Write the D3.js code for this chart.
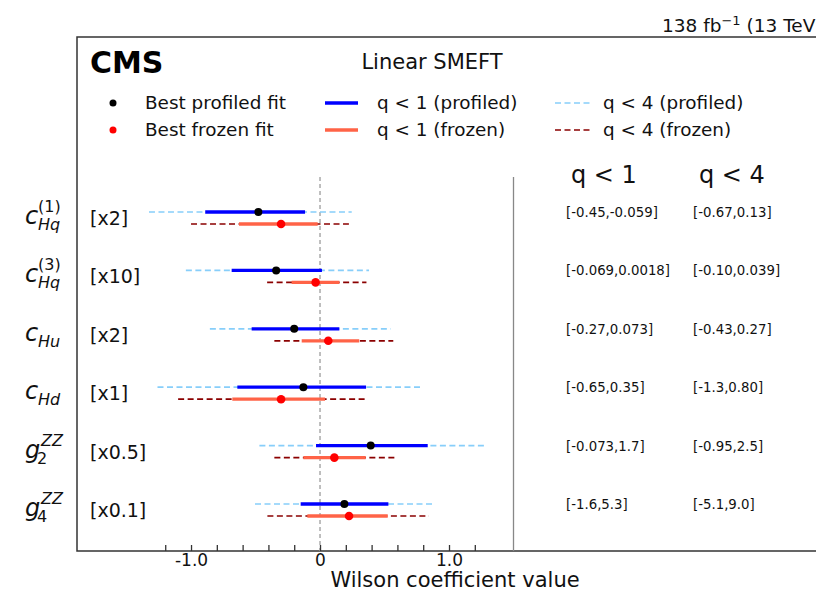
<!DOCTYPE html>
<html>
<head>
<meta charset="utf-8">
<script src="https://cdn.jsdelivr.net/npm/d3@7"></script>
<style>
  body { margin: 0; background: #fff; }
  svg { font-family: "DejaVu Sans", sans-serif; }
</style>
</head>
<body>
<div id="chart-area"></div>
<script>
// parameter labels (base letter, subscript, superscript) and plot scale factors
var labelBase = ["c", "c", "c", "c", "g", "g"];
var labelSub = ["Hq", "Hq", "Hu", "Hd", "2", "4"];
var labelSup = ["(1)", "(3)", "", "", "ZZ", "ZZ"];
var scaleText = ["[x2]", "[x10]", "[x2]", "[x1]", "[x0.5]", "[x0.1]"];
var scaleFactor = [2, 10, 2, 1, 0.5, 0.1];

// intervals in original units
var profBest = [-0.239, -0.034, -0.10, -0.129, 0.786, 1.89];
var profQ1Lo = [-0.445, -0.0685, -0.265, -0.641, -0.062, -1.50];
var profQ1Hi = [-0.058, 0.0015, 0.075, 0.357, 1.67, 5.30];
var profQ4Lo = [-0.663, -0.104, -0.427, -1.26, -0.94, -5.04];
var profQ4Hi = [0.123, 0.038, 0.274, 0.793, 2.55, 8.91];

var frozBest = [-0.151, -0.0034, 0.032, -0.302, 0.222, 2.25];
var frozQ1Lo = [-0.314, -0.022, -0.071, -0.68, -0.258, -0.98];
var frozQ1Hi = [-0.009, 0.015, 0.152, 0.039, 0.708, 5.25];
var frozQ4Lo = [-0.50, -0.041, -0.177, -1.10, -0.708, -4.08];
var frozQ4Hi = [0.112, 0.036, 0.284, 0.349, 1.174, 8.45];

// interval texts on the right
var q1Text = ["[-0.45,-0.059]", "[-0.069,0.0018]", "[-0.27,0.073]", "[-0.65,0.35]", "[-0.073,1.7]", "[-1.6,5.3]"];
var q4Text = ["[-0.67,0.13]", "[-0.10,0.039]", "[-0.43,0.27]", "[-1.3,0.80]", "[-0.95,2.5]", "[-5.1,9.0]"];

var xTicks = [-1.2, -1.0, -0.8, -0.6, -0.4, -0.2, 0, 0.2, 0.4, 0.6, 0.8, 1.0, 1.2];
var xTickLabels = {"-1": "-1.0", "0": "0", "1": "1.0"};

var W = 816, H = 591;
var frameL = 77, frameT = 37, frameB = 551, sepX = 513.5;

var svg = d3.select("#chart-area").append("svg")
    .attr("width", W).attr("height", H);

var x = d3.scaleLinear().domain([-1.884, 1.5]).range([frameL, sepX]);
var rows = d3.range(labelBase.length);
var y = d3.scalePoint().domain(rows).range([218, 510]);
var off = 6;

var colBlue = "#0000ff", colLight = "#87cefa", colRed = "#ff6347", colDark = "#8b0000";

// frame
svg.append("path")
    .attr("d", "M" + (W + 10) + "," + frameT + "H" + frameL + "V" + frameB + "H" + (W + 10))
    .attr("fill", "none").attr("stroke", "#333").attr("stroke-width", 1.5);

// separator and zero line
svg.append("line")
    .attr("x1", sepX).attr("x2", sepX).attr("y1", 177).attr("y2", frameB)
    .attr("stroke", "#888").attr("stroke-width", 1.3);
svg.append("line")
    .attr("x1", x(0)).attr("x2", x(0)).attr("y1", 177).attr("y2", frameB)
    .attr("stroke", "#aaa").attr("stroke-width", 1.5).attr("stroke-dasharray", "4,3");

// x axis
var xAxis = d3.axisBottom(x).tickValues(xTicks).tickSize(-6).tickSizeOuter(0).tickPadding(3)
    .tickFormat(function(d){ var k = String(Math.round(d * 10) / 10); return xTickLabels[k] || ""; });
var gx = svg.append("g").attr("transform", "translate(0," + frameB + ")").call(xAxis);
gx.select(".domain").remove();
gx.selectAll(".tick line").attr("stroke", "#333").attr("stroke-width", 1.3);
gx.selectAll(".tick text").attr("font-size", 17).attr("fill", "#111")
    .attr("font-family", "DejaVu Sans");

svg.append("text").attr("x", 455).attr("y", 587).attr("text-anchor", "middle")
    .attr("font-size", 21).attr("fill", "#111").text("Wilson coefficient value");

// header texts
svg.append("text").attr("x", 662).attr("y", 32).attr("font-size", 18.5).attr("fill", "#111")
    .html("138 fb<tspan dy='-7' font-size='13'>\u22121</tspan><tspan dy='7'> (13 TeV)</tspan>");
svg.append("text").attr("x", 90).attr("y", 73).attr("font-size", 30).attr("font-weight", "bold")
    .attr("fill", "#000").text("CMS");
svg.append("text").attr("x", 432).attr("y", 69).attr("text-anchor", "middle")
    .attr("font-size", 21).attr("fill", "#111").text("Linear SMEFT");

// legend
var lg = svg.append("g").attr("font-size", 18.4).attr("fill", "#111");
lg.append("circle").attr("cx", 113).attr("cy", 103).attr("r", 3.5).attr("fill", "#000");
lg.append("circle").attr("cx", 113).attr("cy", 130).attr("r", 3.5).attr("fill", "red");
lg.append("text").attr("x", 145).attr("y", 109).text("Best profiled fit");
lg.append("text").attr("x", 145).attr("y", 136).text("Best frozen fit");
lg.append("line").attr("x1", 325).attr("x2", 358).attr("y1", 103).attr("y2", 103)
    .attr("stroke", colBlue).attr("stroke-width", 3.3);
lg.append("line").attr("x1", 325).attr("x2", 358).attr("y1", 130).attr("y2", 130)
    .attr("stroke", colRed).attr("stroke-width", 3.3);
lg.append("text").attr("x", 377).attr("y", 109).text("q < 1 (profiled)");
lg.append("text").attr("x", 377).attr("y", 136).text("q < 1 (frozen)");
lg.append("line").attr("x1", 555).attr("x2", 592).attr("y1", 103).attr("y2", 103)
    .attr("stroke", colLight).attr("stroke-width", 1.7).attr("stroke-dasharray", "6,3.5");
lg.append("line").attr("x1", 555).attr("x2", 592).attr("y1", 130).attr("y2", 130)
    .attr("stroke", colDark).attr("stroke-width", 1.7).attr("stroke-dasharray", "6,3.5");
lg.append("text").attr("x", 603).attr("y", 109).text("q < 4 (profiled)");
lg.append("text").attr("x", 603).attr("y", 136).text("q < 4 (frozen)");

// column headers
svg.append("text").attr("x", 571).attr("y", 183).attr("font-size", 24).attr("fill", "#111").text("q < 1");
svg.append("text").attr("x", 699).attr("y", 183).attr("font-size", 24).attr("fill", "#111").text("q < 4");

// rows
var g = svg.append("g");
rows.forEach(function(i){
  var s = scaleFactor[i];
  var yc = y(i);
  var yp = yc - off, yf = yc + off;

  // dashed q<4
  g.append("line").attr("x1", x(profQ4Lo[i] * s)).attr("x2", x(profQ4Hi[i] * s))
    .attr("y1", yp).attr("y2", yp).attr("stroke", colLight).attr("stroke-width", 1.7)
    .attr("stroke-dasharray", "6,3.5");
  g.append("line").attr("x1", x(frozQ4Lo[i] * s)).attr("x2", x(frozQ4Hi[i] * s))
    .attr("y1", yf).attr("y2", yf).attr("stroke", colDark).attr("stroke-width", 1.7)
    .attr("stroke-dasharray", "6,3.5");
  // solid q<1
  g.append("line").attr("x1", x(profQ1Lo[i] * s)).attr("x2", x(profQ1Hi[i] * s))
    .attr("y1", yp).attr("y2", yp).attr("stroke", colBlue).attr("stroke-width", 3.3);
  g.append("line").attr("x1", x(frozQ1Lo[i] * s)).attr("x2", x(frozQ1Hi[i] * s))
    .attr("y1", yf).attr("y2", yf).attr("stroke", colRed).attr("stroke-width", 3.3);
  // best fits
  g.append("circle").attr("cx", x(profBest[i] * s)).attr("cy", yp).attr("r", 4).attr("fill", "#000");
  g.append("circle").attr("cx", x(frozBest[i] * s)).attr("cy", yf).attr("r", 4.3).attr("fill", "red");

  // parameter label
  var lx = 25, by = yc + 6;
  var isG = labelBase[i] === "g";
  g.append("text").attr("x", lx).attr("y", by).attr("font-size", 24)
    .attr("font-style", "italic").attr("fill", "#111").text(labelBase[i]);
  var subItalic = isNaN(+labelSub[i]);
  g.append("text").attr("x", lx + (isG ? 12 : 13)).attr("y", by + 6).attr("font-size", 16)
    .attr("font-style", subItalic ? "italic" : "normal").attr("fill", "#111").text(labelSub[i]);
  if (labelSup[i]) {
    var supItalic = labelSup[i].indexOf("(") < 0;
    g.append("text").attr("x", lx + (isG ? 16 : 13)).attr("y", by - 12).attr("font-size", 16)
      .attr("font-style", supItalic ? "italic" : "normal").attr("fill", "#111").text(labelSup[i]);
  }
  g.append("text").attr("x", 90).attr("y", yc + 7).attr("font-size", 19)
    .attr("fill", "#111").text(scaleText[i]);

  // interval texts
  g.append("text").attr("x", 566).attr("y", yc - 1).attr("font-size", 13.3)
    .attr("fill", "#111").text(q1Text[i]);
  g.append("text").attr("x", 693).attr("y", yc - 1).attr("font-size", 13.3)
    .attr("fill", "#111").text(q4Text[i]);
});
</script>
</body>
</html>
